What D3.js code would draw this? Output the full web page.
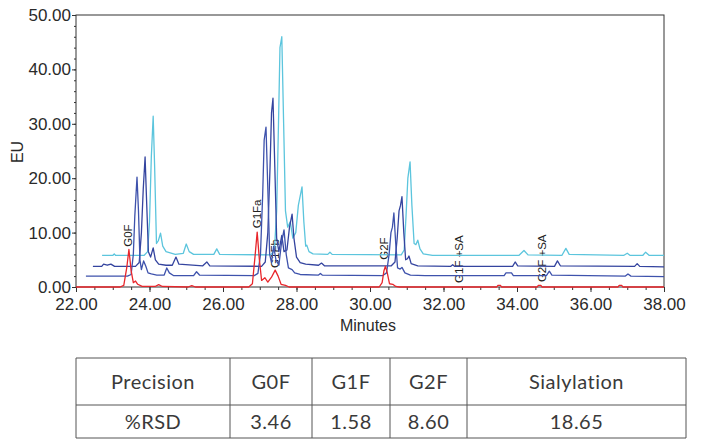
<!DOCTYPE html>
<html>
<head>
<meta charset="utf-8">
<script src="https://cdn.jsdelivr.net/npm/d3@7"></script>
<style>
  body { margin: 0; background: #fff; }
  svg { display: block; }
  .axis text { font-family: "Liberation Sans", Arial, sans-serif; font-size: 17px; fill: #2a2a2a; }
  .axis line { stroke: #333; }
  .axis path { display: none; }
  .ttl { font-family: "Liberation Sans", Arial, sans-serif; font-size: 16px; fill: #2a2a2a; }
  .plabel { font-family: "Liberation Sans", Arial, sans-serif; font-size: 11.5px; fill: #222; }
  .tbl { font-family: Lato, "Open Sans", sans-serif; font-size: 20px; letter-spacing: 0.5px; fill: #3a3a3a; }
</style>
</head>
<body>
<div id="chart"></div>
<script>

// chromatogram traces, [minutes, EU]
var redTrace = [[22.00,0],[23.20,0],[23.30,0.3],[23.38,3.5],[23.44,6.9],[23.50,3.0],[23.56,0.8],[23.62,1.1],[23.68,0.5],[23.80,0.1],
  [24.15,0.1],[24.25,0.45],[24.35,0.1],[25.05,0],[25.15,0.25],[25.25,0],[26.70,0],[26.80,0.6],[26.87,5.5],[26.93,10.1],[26.99,5.0],
  [27.05,1.2],[27.14,1.7],[27.22,0.9],[27.32,1.8],[27.42,3.1],[27.50,2.0],[27.58,0.5],[27.70,0.3],[27.80,0],[30.25,0],[30.33,0.8],
  [30.38,3.0],[30.42,3.8],[30.47,2.6],[30.53,0.6],[30.62,0.5],[30.70,0.1],[30.80,0],[33.45,0],[33.48,0.3],[33.55,0.3],[33.58,0],
  [34.55,0],[34.58,0.3],[34.65,0.3],[34.68,0],[36.75,0],[36.78,0.3],[36.85,0.3],[36.88,0],[38.00,0]];

var blueLowTrace = [[22.27,2.0],[23.40,2.0],[23.50,2.3],[23.56,6],[23.60,13],[23.66,20.2],[23.70,14],[23.74,5],[23.78,3.2],[23.84,4.8],
  [23.90,3.8],[23.96,2.6],[24.05,2.4],[24.20,2.2],[24.40,2.2],[24.47,3.5],[24.54,2.6],[24.65,2.1],[25.20,2.1],[25.28,2.8],[25.36,2.2],
  [26.85,2.1],[26.95,2.5],[27.02,6],[27.08,17],[27.12,27],[27.17,29.4],[27.22,18],[27.27,6],[27.32,4.5],[27.38,7.5],[27.44,5],
  [27.52,4],[27.59,8],[27.66,10.5],[27.72,6],[27.78,3.5],[27.88,3.2],[27.95,2.6],[28.10,2.3],[28.60,2.2],[28.65,2.5],[28.70,2.2],
  [30.35,2.1],[30.45,2.6],[30.52,6],[30.57,10],[30.61,11],[30.65,13.6],[30.70,8],[30.75,3.5],[30.82,3.3],[30.87,3.6],[30.95,2.6],
  [31.10,2.2],[31.50,2.1],[33.65,2.1],[33.70,2.6],[33.85,2.6],[33.90,2.1],[34.80,2.1],[34.88,2.9],[34.95,2.2],[36.95,2.0],
  [37.02,2.4],[37.10,2.0],[38.00,1.9]];

var blueMidTrace = [[22.46,3.8],[22.70,3.8],[22.75,4.2],[22.85,4.0],[22.95,4.2],[23.05,3.8],[23.62,3.8],[23.72,4.5],[23.78,10],[23.83,18],
  [23.88,23.9],[23.92,16],[23.97,6.5],[24.03,5.5],[24.10,7.2],[24.16,5.0],[24.25,4.2],[24.45,4.0],[24.62,4.0],[24.72,5.5],[24.80,4.2],
  [25.45,3.9],[25.56,4.6],[25.64,3.9],[27.05,3.8],[27.15,4.6],[27.22,10],[27.28,22],[27.32,32],[27.36,34.7],[27.41,22],[27.46,9],
  [27.52,6.5],[27.60,9.5],[27.66,6.5],[27.74,6.8],[27.81,11],[27.88,13.4],[27.93,9],[28.00,5.5],[28.10,4.5],[28.25,4.2],[28.60,4.0],
  [28.68,4.4],[28.76,3.9],[30.58,3.9],[30.68,4.6],[30.74,9],[30.79,14],[30.83,15],[30.87,16.6],[30.92,10],[30.97,5],[31.02,5.2],
  [31.06,5.7],[31.12,4.3],[31.30,3.9],[32.20,3.8],[32.25,4.1],[32.30,3.8],[33.88,3.8],[33.95,4.6],[34.02,3.9],[35.02,3.8],
  [35.10,4.8],[35.18,3.9],[37.20,3.8],[37.27,4.3],[37.34,3.8],[38.00,3.7]];

var cyanTrace = [[22.71,5.8],[23.00,5.8],[23.04,6.1],[23.08,5.8],[23.85,5.8],[23.95,6.5],[24.00,12],[24.05,24],[24.10,31.4],[24.14,22],
  [24.19,8],[24.24,8.5],[24.30,9.9],[24.36,7.5],[24.45,6.5],[24.70,6.0],[24.92,6.2],[25.00,7.9],[25.08,6.5],[25.20,6.0],[25.75,6.0],
  [25.83,7.0],[25.91,6.0],[27.30,5.9],[27.40,6.8],[27.46,14],[27.51,30],[27.55,44],[27.60,46],[27.65,30],[27.70,14],[27.76,11],
  [27.83,12],[27.90,9],[27.98,10],[28.05,15],[28.15,18.4],[28.20,12],[28.25,7.5],[28.28,7.7],[28.34,6.5],[28.45,6.1],[28.85,6.0],
  [28.91,6.4],[28.97,6.0],[30.85,5.9],[30.93,6.8],[30.98,13],[31.03,20],[31.09,23],[31.14,15],[31.20,8],[31.25,7.8],[31.30,8.6],
  [31.36,7],[31.45,6.1],[31.70,5.8],[34.05,5.8],[34.19,6.7],[34.30,5.9],[35.22,5.8],[35.33,7.1],[35.42,6.0],[36.90,5.8],
  [37.00,6.2],[37.08,5.8],[37.42,5.8],[37.50,6.4],[37.60,5.8],[38.00,5.8]];

// peak annotations
var peakNames = ["G0F", "G1Fa", "G1Fb", "G2F", "G1F +SA", "G2F +SA"];
var peakTimes = [23.42, 26.93, 27.42, 30.38, 32.42, 34.68];
var peakLevels = [7.4, 10.8, 3.5, 5.0, 0.75, 0.9];

// table
var tableHeader = ["Precision", "G0F", "G1F", "G2F", "Sialylation"];
var tableRow = ["%RSD", "3.46", "1.58", "8.60", "18.65"];

var xTicks = d3.range(22, 38.01, 2),
    yTicks = d3.range(0, 50.01, 10);

var svg = d3.select("#chart")
    .append("svg")
    .attr("width", 702)
    .attr("height", 440);

var x = d3.scaleLinear().domain([22, 38]).range([76, 664]);
var y = d3.scaleLinear().domain([0, 50]).range([287, 15]);

//minor ticks
svg.append("g")
    .attr("class", "axis")
    .attr("transform", "translate(0,287)")
    .call(d3.axisBottom(x).tickValues(d3.range(22, 38.01, 0.5)).tickSize(3).tickFormat(""));
svg.append("g")
    .attr("class", "axis")
    .attr("transform", "translate(76,0)")
    .call(d3.axisLeft(y).tickValues(d3.range(0, 50.01, 2)).tickSize(2).tickFormat(""));

//major ticks
svg.append("g")
    .attr("class", "axis")
    .attr("transform", "translate(0,287)")
    .call(d3.axisBottom(x).tickValues(xTicks).tickSize(5).tickPadding(6).tickFormat(d3.format(".2f")));
svg.append("g")
    .attr("class", "axis")
    .attr("transform", "translate(76,0)")
    .call(d3.axisLeft(y).tickValues(yTicks).tickSize(4).tickPadding(1).tickFormat(d3.format(".2f")));

//frame
svg.append("rect")
    .attr("x", 76).attr("y", 15)
    .attr("width", 588).attr("height", 272)
    .style("fill", "none")
    .style("stroke", "#333")
    .style("stroke-width", 1);

//axis titles
svg.append("text")
    .attr("class", "ttl")
    .attr("text-anchor", "middle")
    .attr("transform", "translate(23,152) rotate(-90)")
    .text("EU");
svg.append("text")
    .attr("class", "ttl")
    .attr("text-anchor", "middle")
    .attr("x", 368).attr("y", 331)
    .text("Minutes");

//peak labels go under the traces
svg.selectAll(".plabel")
    .data(peakNames)
    .enter()
    .append("text")
    .attr("class", "plabel")
    .attr("dy", "0.35em")
    .attr("transform", function(d, i) {
        return "translate(" + x(peakTimes[i]) + "," + y(peakLevels[i]) + ") rotate(-90)";
    })
    .text(function(d) { return d; });

var line = d3.line()
    .x(function(d) { return x(d[0]); })
    .y(function(d) { return y(d[1]); });

var traces = [
    {data: cyanTrace, color: "#5cc5dd"},
    {data: blueMidTrace, color: "#34449f"},
    {data: blueLowTrace, color: "#3e52ac"},
    {data: redTrace, color: "#e8262b"}
];

svg.selectAll(".trace")
    .data(traces)
    .enter()
    .append("path")
    .attr("class", "trace")
    .attr("d", function(d) { return line(d.data); })
    .style("fill", "none")
    .style("stroke", function(d) { return d.color; })
    .style("stroke-width", 1.3)
    .style("stroke-linejoin", "round");

//results table
var colEdges = [76, 230, 312, 390, 467, 686],
    rowEdges = [358, 405, 438];

var tbl = svg.append("g");
rowEdges.forEach(function(r) {
    tbl.append("line")
        .attr("x1", colEdges[0]).attr("x2", colEdges[colEdges.length - 1])
        .attr("y1", r).attr("y2", r)
        .style("stroke", "#555");
});
colEdges.forEach(function(c) {
    tbl.append("line")
        .attr("x1", c).attr("x2", c)
        .attr("y1", rowEdges[0]).attr("y2", rowEdges[2])
        .style("stroke", "#555");
});

[tableHeader, tableRow].forEach(function(row, r) {
    tbl.selectAll(".row" + r)
        .data(row)
        .enter()
        .append("text")
        .attr("class", "tbl row" + r)
        .attr("text-anchor", "middle")
        .attr("dy", "0.35em")
        .attr("x", function(d, i) { return (colEdges[i] + colEdges[i + 1]) / 2; })
        .attr("y", (rowEdges[r] + rowEdges[r + 1]) / 2)
        .text(function(d) { return d; });
});

</script>
</body>
</html>
